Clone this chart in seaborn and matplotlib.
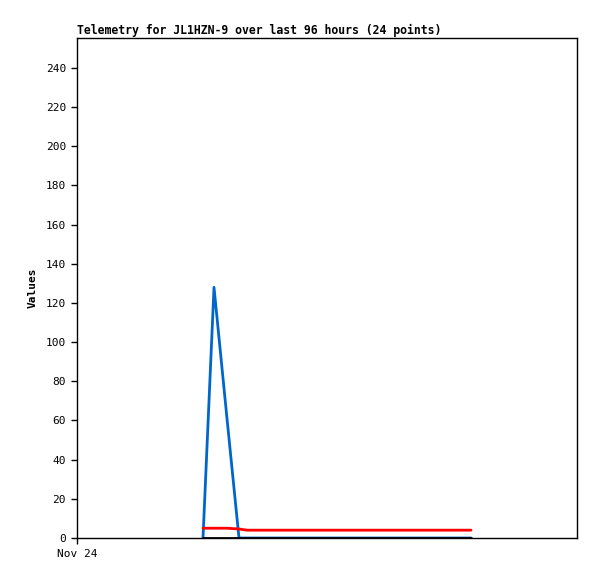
import matplotlib
matplotlib.use("Agg")
import matplotlib.pyplot as plt
import pandas as pd
import seaborn as sns

# hours since Nov 24 00:00
hours = [25.2, 27.4, 30.0, 32.4, 34.0, 36.4, 38.7, 41.1, 43.4, 45.8, 48.2, 50.5,
         52.9, 55.2, 57.6, 60.0, 62.3, 64.7, 67.0, 69.4, 71.8, 74.1, 76.5, 78.8]
blue_vals = [0, 128, 61, 0, 0, 0, 0, 0, 0, 0, 0, 0,
             0, 0, 0, 0, 0, 0, 0, 0, 0, 0, 0, 0]
red_vals = [5, 5, 5, 4.6, 4, 4, 4, 4, 4, 4, 4, 4,
            4, 4, 4, 4, 4, 4, 4, 4, 4, 4, 4, 4]
black_vals = [0] * 24
series_names = ["ch1", "ch2", "ch3"]
series_colors = ["#0066cc", "#ff0000", "#000000"]
x_ticks = [0]
x_tick_labels = ["Nov 24"]

df = pd.DataFrame({
    "hours": hours * 3,
    "value": blue_vals + red_vals + black_vals,
    "series": [series_names[0]] * 24 + [series_names[1]] * 24 + [series_names[2]] * 24,
})

sns.set_style("white")
plt.rcParams["font.family"] = ["DejaVu Sans Mono"]
plt.rcParams["text.color"] = "black"
plt.rcParams["axes.labelcolor"] = "black"
plt.rcParams["xtick.color"] = "black"
plt.rcParams["ytick.color"] = "black"

fig = plt.figure(figsize=(5.97, 5.79), dpi=100)
ax = fig.add_axes([77 / 597, 1 - 538 / 579, 500 / 597, 500 / 579])
sns.lineplot(data=df, x="hours", y="value", hue="series", hue_order=series_names,
             palette=series_colors, linewidth=2, legend=False, ax=ax)

ax.set_xlim(0, 100)
ax.set_ylim(0, 255.3)
ax.set_yticks(range(0, 241, 20))
ax.set_xticks(x_ticks)
ax.set_xticklabels(x_tick_labels)
ax.tick_params(direction="out", length=4, width=1, labelsize=8, left=True, bottom=True, pad=4)
for s in ax.spines.values():
    s.set_color("black")
    s.set_linewidth(1)
ax.set_xlabel("")
ax.set_ylabel("Values", fontsize=8, fontweight="bold", labelpad=6)
ax.set_title("Telemetry for JL1HZN-9 over last 96 hours (24 points)",
             fontsize=8.3, fontweight="bold", loc="left", pad=3)

fig.savefig("out.png", dpi=100)
